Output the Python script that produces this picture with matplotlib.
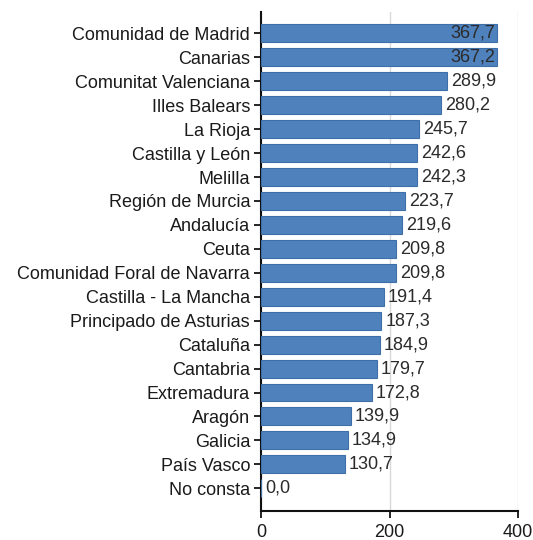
import matplotlib
matplotlib.use("Agg")
import matplotlib.pyplot as plt

categories = ["Comunidad de Madrid", "Canarias", "Comunitat Valenciana", "Illes Balears",
              "La Rioja", "Castilla y León", "Melilla", "Región de Murcia", "Andalucía",
              "Ceuta", "Comunidad Foral de Navarra", "Castilla - La Mancha",
              "Principado de Asturias", "Cataluña", "Cantabria", "Extremadura",
              "Aragón", "Galicia", "País Vasco", "No consta"]
values = [367.7, 367.2, 289.9, 280.2, 245.7, 242.6, 242.3, 223.7, 219.6, 209.8,
          209.8, 191.4, 187.3, 184.9, 179.7, 172.8, 139.9, 134.9, 130.7, 0.0]
x_ticks = [0, 200, 400]

plt.rcParams['font.family'] = ['Liberation Sans', 'DejaVu Sans']
FS = 13

fig = plt.figure(figsize=(5.33, 5.40), dpi=100)
ax = fig.add_axes([0.49, 0.0537, 0.482, 0.9243])

ys = list(range(len(categories)))
ax.barh(ys, values, height=0.75, color="#4F81BD", edgecolor="#3F6FA8", linewidth=0.8, zorder=3)

for y, v in zip(ys, values):
    txt = f"{v:.1f}".replace(".", ",")
    if v > 330:
        ax.text(v - 3, y, txt, ha="right", va="center", fontsize=FS, color="#2b2b2b", zorder=4)
    else:
        ax.text(v + 6, y, txt, ha="left", va="center", fontsize=FS, color="#2b2b2b", zorder=4)

ax.set_yticks(ys)
ax.set_yticklabels(categories, fontsize=FS, color="#1a1a1a")
ax.set_ylim(len(categories) - 0.05, -0.9)
ax.set_xlim(0, 400)
ax.set_xticks(x_ticks)
ax.set_xticklabels([str(t) for t in x_ticks], fontsize=FS, color="#1a1a1a")

ax.grid(axis="x", color="#D9D9D9", linewidth=1, zorder=0)
for s in ["top", "right"]:
    ax.spines[s].set_visible(False)
ax.spines["left"].set_linewidth(1.5)
ax.spines["bottom"].set_linewidth(1.5)
ax.spines["left"].set_color("#111111")
ax.spines["bottom"].set_color("#111111")
ax.tick_params(axis="y", length=5, width=1.2, pad=3)
ax.tick_params(axis="x", length=5, width=1.2, pad=4)

fig.savefig("out.png", dpi=100)
